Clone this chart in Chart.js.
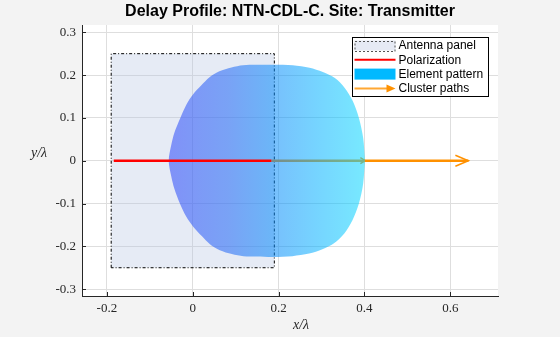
<!DOCTYPE html>
<html>
<head>
<meta charset="utf-8">
<script src="https://cdn.jsdelivr.net/npm/chart.js@4.4.1/dist/chart.umd.min.js"></script>
<style>
  html, body { margin: 0; padding: 0; background: #f3f3f3; }
  canvas { display: block; }
</style>
</head>
<body>
<canvas id="chart" width="560" height="337"></canvas>
<script>
// ---- values ----
const TITLE = 'Delay Profile: NTN-CDL-C. Site: Transmitter';
const X_LABEL = 'x/λ';
const Y_LABEL = 'y/λ';
const X_TICKS = [-0.2, 0, 0.2, 0.4, 0.6];
const X_TICK_LABELS = ['-0.2', '0', '0.2', '0.4', '0.6'];
const Y_TICKS = [-0.3, -0.2, -0.1, 0, 0.1, 0.2, 0.3];
const Y_TICK_LABELS = ['-0.3', '-0.2', '-0.1', '0', '0.1', '0.2', '0.3'];
const X_LIMITS = [-0.258, 0.711];
const Y_LIMITS = [-0.316, 0.317];

// antenna panel outline (closed)
const PANEL_X = [-0.19, -0.19, 0.19, 0.19, -0.19];
const PANEL_Y = [-0.25, 0.25, 0.25, -0.25, -0.25];

// polarization vector
const POL_X = [-0.184, 0.183];
const POL_Y = [0, 0];

// element pattern outline (closed, counter-clockwise from the +x tip)
const PATTERN_X = [0.401, 0.397, 0.387, 0.373, 0.354, 0.331, 0.303, 0.272, 0.233, 0.187, 0.148, 0.117, 0.090, 0.062, 0.039, 0.020, 0.000, -0.015, -0.029, -0.043, -0.050, -0.056,
                   -0.050, -0.043, -0.030, -0.015, 0.001, 0.021, 0.040, 0.063, 0.091, 0.118, 0.149, 0.187, 0.232, 0.271, 0.302, 0.329, 0.353, 0.372, 0.387, 0.397, 0.401];
const PATTERN_Y = [0.000, 0.053, 0.100, 0.139, 0.170, 0.193, 0.207, 0.217, 0.223, 0.224, 0.224, 0.223, 0.218, 0.209, 0.195, 0.176, 0.154, 0.131, 0.100, 0.065, 0.037, 0.000,
                   -0.037, -0.065, -0.100, -0.131, -0.154, -0.176, -0.195, -0.209, -0.218, -0.223, -0.224, -0.225, -0.223, -0.217, -0.207, -0.193, -0.170, -0.139, -0.100, -0.053, 0.000];

// cluster path: start, pattern edge, end
const PATH_X = [0.183, 0.402, 0.642];
const PATH_Y = [0, 0, 0];

const LEGEND_LABELS = ['Antenna panel', 'Polarization', 'Element pattern', 'Cluster paths'];

// ---- colours ----
const AXIS_COLOR = '#262626';
const GRID_COLOR = '#dedede';
const PANEL_FILL = 'rgba(180,195,225,0.33)';
const POL_COLOR = '#ff0000';
const PATH_COLOR = '#ff9100';
const PATTERN_LEGEND = '#00b9ff';
const PATTERN_STOPS = [
  [0.00, 'rgba(45,72,250,0.55)'],
  [0.30, 'rgba(32,102,246,0.55)'],
  [0.52, 'rgba(8,137,250,0.55)'],
  [0.75, 'rgba(5,176,255,0.55)'],
  [1.00, 'rgba(8,215,255,0.55)']
];

const toPoints = (xs, ys) => xs.map((x, i) => ({ x, y: ys[i] }));

function patternGradient(context) {
  const chart = context.chart;
  const xs = chart.scales.x;
  if (!chart.chartArea || !xs) return PATTERN_STOPS[2][1];
  const x0 = xs.getPixelForValue(Math.min(...PATTERN_X));
  const x1 = xs.getPixelForValue(Math.max(...PATTERN_X));
  const g = chart.ctx.createLinearGradient(x0, 0, x1, 0);
  PATTERN_STOPS.forEach(([o, c]) => g.addColorStop(o, c));
  return g;
}

function chevron(ctx, x, y, len, half) {
  ctx.beginPath();
  ctx.moveTo(x - len, y - half);
  ctx.lineTo(x, y);
  ctx.lineTo(x - len, y + half);
  ctx.stroke();
}

// figure and axes backgrounds
const backdrop = {
  id: 'backdrop',
  beforeDraw(chart) {
    const { ctx, chartArea: a } = chart;
    ctx.save();
    ctx.fillStyle = '#f3f3f3';
    ctx.fillRect(0, 0, chart.width, chart.height);
    ctx.fillStyle = '#ffffff';
    ctx.fillRect(a.left, a.top, a.right - a.left, a.bottom - a.top);
    ctx.restore();
  }
};

// arrow heads on the cluster path, drawn right after its line
const arrowHeads = {
  id: 'arrowHeads',
  afterDatasetDraw(chart, args) {
    const ds = chart.data.datasets[args.index];
    if (ds.label !== 'Cluster paths') return;
    const pts = args.meta.data;
    const ctx = chart.ctx;
    ctx.save();
    ctx.strokeStyle = ds.borderColor;
    ctx.lineWidth = 1.5;
    chevron(ctx, pts[1].x, pts[1].y, 5, 3);
    chevron(ctx, pts[2].x, pts[2].y, 13, 5.5);
    ctx.restore();
  }
};

// inward tick marks, axis labels and the boxed legend
const decorations = {
  id: 'decorations',
  afterDraw(chart) {
    const { ctx, chartArea: a, scales } = chart;
    ctx.save();
    ctx.strokeStyle = AXIS_COLOR;
    ctx.lineWidth = 1;
    ctx.beginPath();
    scales.x.ticks.forEach(t => {
      const px = Math.round(scales.x.getPixelForValue(t.value)) + 0.5;
      ctx.moveTo(px, a.bottom);
      ctx.lineTo(px, a.bottom - 4);
    });
    scales.y.ticks.forEach(t => {
      const py = Math.round(scales.y.getPixelForValue(t.value)) + 0.5;
      ctx.moveTo(a.left, py);
      ctx.lineTo(a.left + 4, py);
    });
    ctx.stroke();

    // axis labels
    ctx.fillStyle = AXIS_COLOR;
    ctx.font = 'italic 14px "Liberation Serif", serif';
    ctx.textAlign = 'center';
    ctx.textBaseline = 'middle';
    ctx.fillText(X_LABEL, a.left + 219, a.bottom + 29);
    ctx.fillText(Y_LABEL, a.left - 43, a.top + 128);

    // legend
    const bw = 136, bh = 59;
    const bx = Math.round(a.right - 10.5 - bw) + 0.5;
    const by = Math.round(a.top + 12) + 0.5;
    ctx.fillStyle = '#ffffff';
    ctx.fillRect(bx, by, bw, bh);
    ctx.strokeStyle = '#000000';
    ctx.lineWidth = 1;
    ctx.strokeRect(bx, by, bw, bh);

    const sx0 = bx + 2, sx1 = bx + 43;
    const rowY = i => by + 8 + i * 14.3;

    // antenna panel sample
    ctx.fillStyle = '#e6eaf4';
    ctx.fillRect(sx0, rowY(0) - 5, sx1 - sx0, 10);
    ctx.setLineDash([2, 2]);
    ctx.strokeStyle = '#555555';
    ctx.strokeRect(sx0 + 0.5, Math.round(rowY(0) - 5) + 0.5, sx1 - sx0 - 1, 10);
    ctx.setLineDash([]);

    // polarization sample
    ctx.strokeStyle = POL_COLOR;
    ctx.lineWidth = 2;
    ctx.beginPath();
    ctx.moveTo(sx0, rowY(1));
    ctx.lineTo(sx1, rowY(1));
    ctx.stroke();

    // element pattern sample
    ctx.fillStyle = PATTERN_LEGEND;
    ctx.fillRect(sx0, rowY(2) - 5.5, sx1 - sx0, 11);

    // cluster path sample
    ctx.strokeStyle = '#ffa733';
    ctx.beginPath();
    ctx.moveTo(sx0, rowY(3));
    ctx.lineTo(sx1 - 6, rowY(3));
    ctx.stroke();
    ctx.fillStyle = PATH_COLOR;
    ctx.beginPath();
    ctx.moveTo(sx1 - 9, rowY(3) - 4);
    ctx.lineTo(sx1, rowY(3));
    ctx.lineTo(sx1 - 9, rowY(3) + 4);
    ctx.closePath();
    ctx.fill();

    ctx.fillStyle = '#000000';
    ctx.font = '12px "Liberation Sans", Arial, sans-serif';
    ctx.textAlign = 'left';
    ctx.textBaseline = 'middle';
    LEGEND_LABELS.forEach((t, i) => ctx.fillText(t, bx + 46, rowY(i) + 0.5));
    ctx.restore();
  }
};

new Chart(document.getElementById('chart'), {
  type: 'scatter',
  data: {
    datasets: [
      {
        label: 'Antenna panel',
        data: toPoints(PANEL_X, PANEL_Y),
        showLine: true,
        fill: 'shape',
        backgroundColor: PANEL_FILL,
        borderColor: '#000000',
        borderWidth: 1,
        borderDash: [3, 2, 1, 2],
        pointRadius: 0,
        tension: 0,
        order: 4
      },
      {
        label: 'Cluster paths',
        data: toPoints(PATH_X, PATH_Y),
        showLine: true,
        fill: false,
        borderColor: PATH_COLOR,
        borderWidth: 2.5,
        pointRadius: 0,
        tension: 0,
        order: 3
      },
      {
        label: 'Element pattern',
        data: toPoints(PATTERN_X, PATTERN_Y),
        showLine: true,
        fill: 'shape',
        backgroundColor: patternGradient,
        borderWidth: 0,
        borderColor: 'rgba(0,0,0,0)',
        pointRadius: 0,
        tension: 0.3,
        order: 2
      },
      {
        label: 'Polarization',
        data: toPoints(POL_X, POL_Y),
        showLine: true,
        fill: false,
        borderColor: POL_COLOR,
        borderWidth: 2.5,
        pointRadius: 0,
        tension: 0,
        order: 1
      }
    ]
  },
  options: {
    responsive: false,
    devicePixelRatio: 1,
    animation: false,
    events: [],
    layout: { padding: { left: 0, right: 62, top: 0, bottom: 0 } },
    plugins: {
      legend: { display: false },
      tooltip: { enabled: false },
      title: {
        display: true,
        text: TITLE,
        fullSize: false,
        color: '#000000',
        font: { family: '"Liberation Sans", Arial, sans-serif', size: 16, weight: 'bold' },
        padding: { top: 2, bottom: 3.8 }
      }
    },
    scales: {
      x: {
        type: 'linear',
        min: X_LIMITS[0],
        max: X_LIMITS[1],
        afterBuildTicks: s => { s.ticks = X_TICKS.map(v => ({ value: v })); },
        afterFit: s => { s.height = 41; },
        ticks: {
          callback: (v, i) => X_TICK_LABELS[i],
          color: AXIS_COLOR,
          font: { family: '"Liberation Serif", serif', size: 13 },
          padding: 5,
          maxRotation: 0,
          autoSkip: false
        },
        grid: { color: GRID_COLOR, drawTicks: false },
        border: { display: true, color: AXIS_COLOR, width: 1 }
      },
      y: {
        type: 'linear',
        min: Y_LIMITS[0],
        max: Y_LIMITS[1],
        afterBuildTicks: s => { s.ticks = Y_TICKS.map(v => ({ value: v })); },
        afterFit: s => { s.width = 82; },
        ticks: {
          callback: (v, i) => Y_TICK_LABELS[i],
          color: AXIS_COLOR,
          font: { family: '"Liberation Serif", serif', size: 13 },
          padding: 6,
          autoSkip: false
        },
        grid: { color: GRID_COLOR, drawTicks: false },
        border: { display: true, color: AXIS_COLOR, width: 1 }
      }
    }
  },
  plugins: [backdrop, arrowHeads, decorations]
});
</script>
</body>
</html>
